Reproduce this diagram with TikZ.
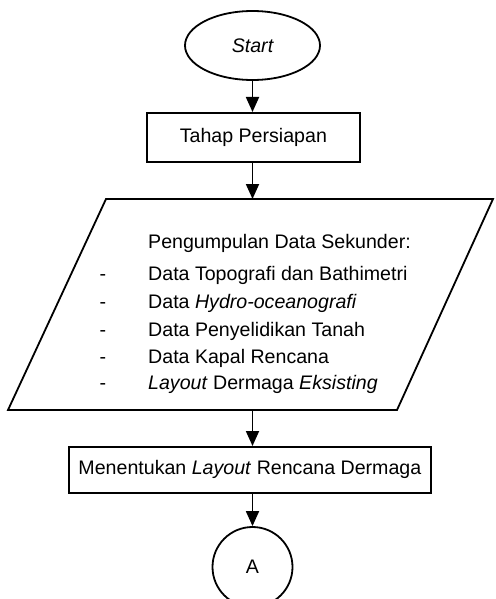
\documentclass[tikz,border=0pt]{standalone}
\usepackage{fontspec}
\setmainfont{Liberation Sans}
\usetikzlibrary{arrows.meta,shapes.geometric}
\begin{document}
\begin{tikzpicture}[x=1pt,y=-1pt,
  every node/.style={font=\fontsize{19.6}{23}\selectfont, inner sep=0pt},
  line/.style={line width=1.8pt},
  arr/.style={line width=1.8pt,-{Triangle[width=13pt,length=15pt]}},
  procbox/.style={draw,line width=1.8pt,rectangle,anchor=north west},
  txt/.style={anchor=base west}
]
\useasboundingbox (0,0) rectangle (495,599);
% start
\node[draw,line width=1.8pt,ellipse,minimum width=135pt,minimum height=69pt] (start) at (252.5,45.5) {\itshape Start};
% Tahap Persiapan
\node[procbox,minimum width=213pt,minimum height=49pt] (tahap) at (146,112) {};
\node (tahaptxt) at (tahap.center) {Tahap Persiapan};
% parallelogram
\coordinate (ptl) at (106,199);
\coordinate (ptr) at (493,199);
\coordinate (pbr) at (397,410);
\coordinate (pbl) at (8,410);
\coordinate (ptop) at (252.5,199);
\coordinate (pbot) at (252.5,410);
\draw[line,line join=miter] (ptl) -- (ptr) -- (pbr) -- (pbl) -- cycle;
\node[txt] (t0) at (148,248) {Pengumpulan Data Sekunder:};
\node[txt] (t1) at (148,280) {Data Topografi dan Bathimetri};
\node[txt] (t2) at (148,308) {Data \textit{Hydro-oceanografi}};
\node[txt] (t3) at (148,336) {Data Penyelidikan Tanah};
\node[txt] (t4) at (148,363) {Data Kapal Rencana};
\node[txt] (t5) at (148,389) {\textit{Layout} Dermaga \textit{Eksisting}};
\node[txt] (d1) at (99.5,280) {-};
\node[txt] (d2) at (99.5,308) {-};
\node[txt] (d3) at (99.5,336) {-};
\node[txt] (d4) at (99.5,363) {-};
\node[txt] (d5) at (99.5,389) {-};
% Menentukan
\node[procbox,minimum width=362pt,minimum height=46pt] (layout) at (68,446) {};
\node (layouttxt) at (layout.center) {Menentukan \textit{Layout} Rencana Dermaga};
% connector A
\node[draw,line width=1.8pt,circle,minimum size=80pt] (conA) at (252.5,567) {A};
% arrows
\draw[arr] (start.south) -- (start.south |- tahap.north);
\draw[arr] (ptop |- tahap.south) -- (ptop);
\draw[arr] (pbot) -- (pbot |- layout.north);
\draw[arr] (conA.north |- layout.south) -- (conA.north);
\end{tikzpicture}
\end{document}
